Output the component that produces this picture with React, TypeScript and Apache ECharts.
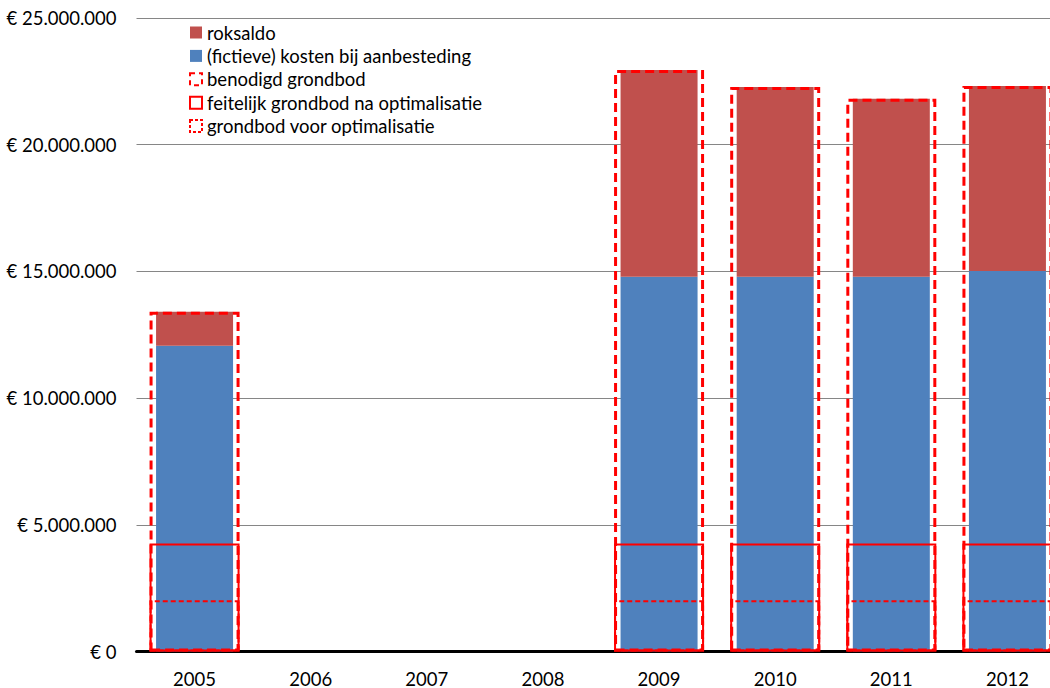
import React, { useEffect, useRef } from "react";
import * as echarts from "echarts";

const years = ["2005", "2006", "2007", "2008", "2009", "2010", "2011", "2012"];
const kosten = [12070000, null, null, null, 14790000, 14790000, 14790000, 15020000];
const roksaldo = [1340000, null, null, null, 8160000, 7490000, 7020000, 7300000];
const benodigd = [2020000, null, null, null, 2020000, 2020000, 2020000, 2020000];
const feitelijk = [4260000, null, null, null, 4260000, 4260000, 4260000, 4260000];
const voorOptimalisatie = [13410000, null, null, null, 22950000, 22280000, 21810000, 22320000];

const FONT = "Lato";

function fmtEuro(v: number): string {
  const s = Math.round(v).toString().replace(/\B(?=(\d{3})+(?!\d))/g, ".");
  return "€ " + s;
}

export default function App() {
  const ref = useRef<HTMLDivElement>(null);
  useEffect(() => {
    if (!ref.current) return;
    const chart = echarts.init(ref.current, undefined, { renderer: "svg" });
    const outline = (type: any, width: number) => ({
      color: "rgba(0,0,0,0)",
      borderColor: "#FF0000",
      borderWidth: width,
      borderType: type,
    });
    chart.setOption({
      animation: false,
      textStyle: { fontFamily: FONT },
      grid: { left: 136.5, top: 18, right: 34.5, bottom: 35 },
      legend: {
        orient: "vertical",
        left: 189,
        top: 23,
        padding: 0,
        itemWidth: 12,
        itemHeight: 12,
        itemGap: 4.4,
        textStyle: { fontSize: 18.5, color: "#000", fontFamily: FONT, lineHeight: 18 },
        data: [
          { name: "roksaldo", icon: "rect" },
          { name: "(fictieve) kosten bij aanbesteding", icon: "rect" },
          { name: "benodigd grondbod", icon: "rect", itemStyle: outline([5, 4], 2) },
          { name: "feitelijk grondbod na optimalisatie", icon: "rect", itemStyle: outline("solid", 2) },
          { name: "grondbod voor optimalisatie", icon: "rect", itemStyle: outline([3, 2], 2) },
        ],
      },
      xAxis: [
        {
          type: "category",
          data: years,
          axisLine: { lineStyle: { color: "#000", width: 3 } },
          axisTick: { show: false },
          axisLabel: { fontSize: 18.5, color: "#000", margin: 21, lineHeight: 12, fontFamily: FONT },
        },
        {
          type: "category",
          data: years,
          show: false,
        },
      ],
      yAxis: {
        type: "value",
        min: 0,
        max: 25000000,
        interval: 5000000,
        axisLine: { show: false },
        axisTick: { show: false },
        splitLine: { lineStyle: { color: "#868686", width: 1 } },
        axisLabel: {
          fontSize: 18.5,
          color: "#000",
          margin: 20,
          fontFamily: FONT,
          formatter: (v: number) => fmtEuro(v),
        },
      },
      series: [
        {
          name: "(fictieve) kosten bij aanbesteding",
          type: "bar",
          stack: "s",
          xAxisIndex: 0,
          barWidth: 77,
          data: kosten,
          itemStyle: { color: "#4F81BD" },
          z: 2,
        },
        {
          name: "roksaldo",
          type: "bar",
          stack: "s",
          xAxisIndex: 0,
          barWidth: 77,
          data: roksaldo,
          itemStyle: { color: "#C0504D" },
          z: 2,
        },
        {
          name: "benodigd grondbod",
          type: "bar",
          xAxisIndex: 1,
          barWidth: 90,
          barGap: "-100%",
          data: benodigd,
          itemStyle: outline([5, 3], 2),
          z: 5,
        },
        {
          name: "feitelijk grondbod na optimalisatie",
          type: "bar",
          xAxisIndex: 1,
          barWidth: 90,
          barGap: "-100%",
          data: feitelijk,
          itemStyle: outline("solid", 2),
          z: 5,
        },
        {
          name: "grondbod voor optimalisatie",
          type: "bar",
          xAxisIndex: 1,
          barWidth: 90,
          barGap: "-100%",
          data: voorOptimalisatie,
          itemStyle: outline([9, 5], 3),
          z: 5,
        },
      ],
    });
    return () => chart.dispose();
  }, []);
  return (
    <div style={{ position: "absolute", left: 0, top: 0, width: 1050, height: 688, overflow: "hidden", background: "#fff" }}>
      <div ref={ref} style={{ width: 1100, height: 688 }} />
    </div>
  );
}
